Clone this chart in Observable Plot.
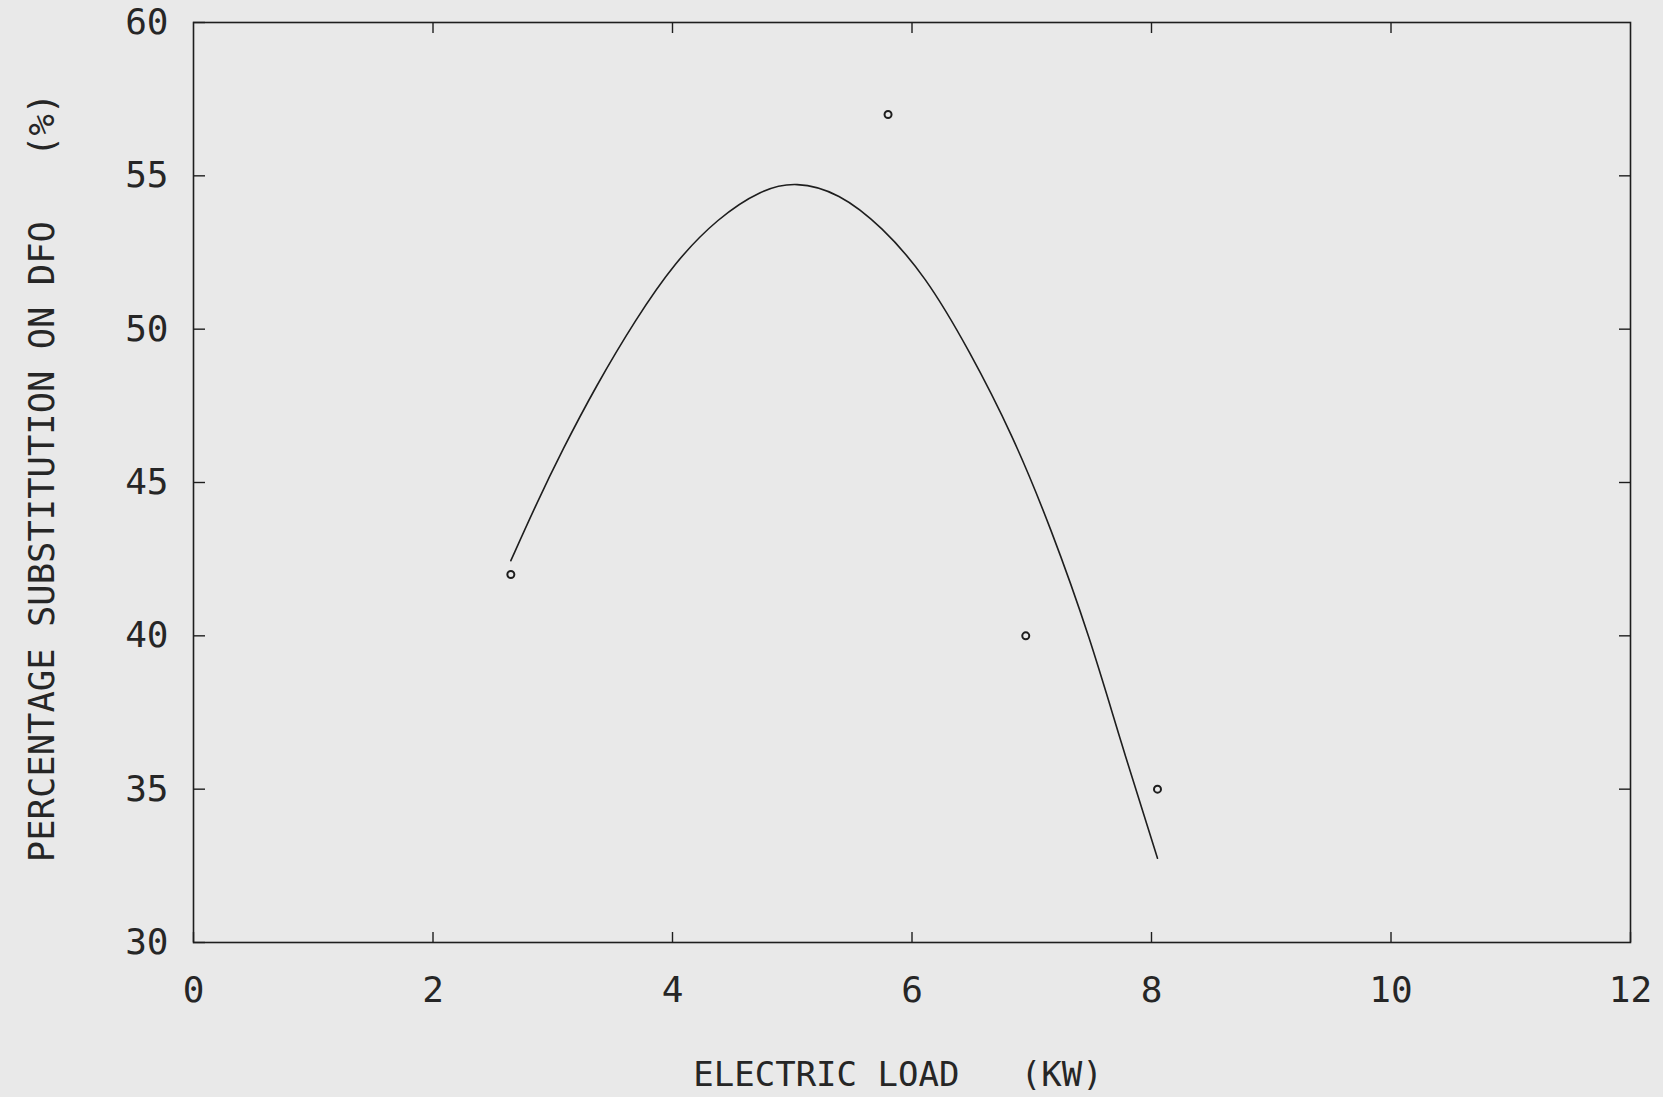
<!DOCTYPE html>
<html>
<head>
<meta charset="utf-8">
<script src="https://cdn.jsdelivr.net/npm/d3@7"></script>
<script src="https://cdn.jsdelivr.net/npm/@observablehq/plot@0.6"></script>
<style>
html, body { margin: 0; padding: 0; background: #e9e9e9; }
#chart svg { display: block; }
</style>
</head>
<body>
<div id="chart"></div>
<script>
// Observed data points (open circles)
const obsLoad = [2.65, 5.8, 6.95, 8.05];
const obsSubst = [42, 57, 40, 35];

// Fitted curve
const fitLoad = [2.65, 2.86, 3.08, 3.36, 3.69, 4.02, 4.38, 4.74, 5.03, 5.39, 5.75, 6.11, 6.48, 6.84, 7.16, 7.49, 7.74, 8.05];
const fitSubst = [42.45, 44.28, 46.06, 48.14, 50.31, 52.19, 53.63, 54.55, 54.82, 54.45, 53.34, 51.75, 49.30, 46.55, 43.52, 39.90, 36.58, 32.75];

// Tick labels
const xTicks = [0, 2, 4, 6, 8, 10, 12];
const yTicks = [30, 35, 40, 45, 50, 55, 60];
const xLabel = "ELECTRIC LOAD\u00a0\u00a0\u00a0(KW)";
const yLabel = "PERCENTAGE SUBSTITUTION ON DFO\u00a0\u00a0\u00a0(%)";

const points = obsLoad.map((x, i) => ({x, y: obsSubst[i]}));
const fit = fitLoad.map((x, i) => ({x, y: fitSubst[i]}));

const ink = "#1e1e1e";
const textInk = "#262626";
const font = "DejaVu Sans Mono";

const chart = Plot.plot({
  width: 1663,
  height: 1097,
  marginLeft: 193,
  marginRight: 33,
  marginTop: 22,
  marginBottom: 155,
  style: {background: "#e9e9e9", color: ink, fontFamily: font},
  x: {domain: [0, 12]},
  y: {domain: [30, 60]},
  marks: [
    Plot.frame({stroke: ink, strokeWidth: 1.6}),
    // inward ticks on all four sides
    Plot.axisX({ticks: xTicks, anchor: "bottom", tickSize: -10, tickFormat: () => "", label: null, stroke: ink, strokeWidth: 1.4}),
    Plot.axisX({ticks: xTicks.slice(1, -1), anchor: "top", tickSize: -10, tickFormat: () => "", label: null, stroke: ink, strokeWidth: 1.4}),
    Plot.axisY({ticks: yTicks, anchor: "left", tickSize: -12, tickFormat: () => "", label: null, stroke: ink, strokeWidth: 1.4}),
    Plot.axisY({ticks: yTicks.slice(1, -1), anchor: "right", tickSize: -12, tickFormat: () => "", label: null, stroke: ink, strokeWidth: 1.4}),
    // tick labels
    Plot.axisX({ticks: xTicks, anchor: "bottom", tickSize: 0, tickPadding: 34, fontSize: 36, label: null, fill: textInk}),
    Plot.axisY({ticks: yTicks, anchor: "left", tickSize: 0, tickPadding: 25, fontSize: 36, label: null, fill: textInk}),
    // axis titles
    Plot.text([xLabel], {frameAnchor: "bottom", textAnchor: "middle", dy: 143, dx: -14, lineAnchor: "bottom", fontSize: 34, fill: textInk, text: d => d}),
    Plot.text([yLabel], {frameAnchor: "left", textAnchor: "middle", dx: -151, dy: -5, rotate: -90, fontSize: 35.5, fill: textInk, text: d => d}),
    // fitted curve
    Plot.line(fit, {x: "x", y: "y", curve: "basis", stroke: ink, strokeWidth: 1.6}),
    // observed points
    Plot.dot(points, {x: "x", y: "y", r: 3.5, stroke: ink, strokeWidth: 2, fill: "none"})
  ]
});

document.getElementById("chart").appendChild(chart);
</script>
</body>
</html>
